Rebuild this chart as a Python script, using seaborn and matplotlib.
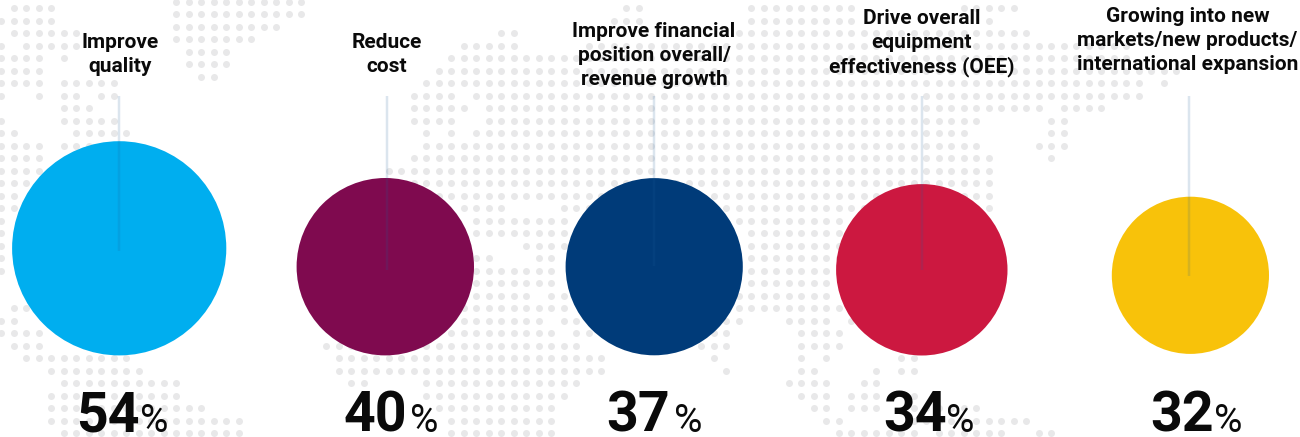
import matplotlib
matplotlib.use("Agg")
import matplotlib.pyplot as plt
import numpy as np
import pandas as pd
import seaborn as sns

# Survey results
categories = [
    "Improve\nquality",
    "Reduce\ncost",
    "Improve financial\nposition overall/\nrevenue growth",
    "Drive overall\nequipment\neffectiveness (OEE)",
    "Growing into new\nmarkets/new products/\ninternational expansion",
]
values = [54, 40, 37, 34, 32]

# Layout in pixels
bubble_x = [119.2, 385.3, 654.2, 921.8, 1190.4]
bubble_y = [248.3, 266.7, 266.7, 269.8, 275.3]
bubble_radius = [107.1, 88.7, 88.6, 85.7, 78.6]
stem_x = [119, 386.7, 654, 921.5, 1189]
stem_end = [251, 269.7, 266, 269.7, 276]
title_x = [120, 387, 654, 921.5, 1187.5]
title_last_baseline = [72, 72, 85, 72, 69.5]
number_right = [139.5, 407.5, 670, 946.5, 1214]
percent_left = [140, 410, 674, 946, 1214]
colors = ["#00AEEF", "#7F0A4F", "#003B79", "#CC1840", "#F8C20A"]

# Dotted world map backdrop: grid row -> spans of grid columns
map_rows = {
    0: [(1, 4), (50, 51), (60, 68), (77, 81)],
    1: [(0, 4), (49, 51), (60, 68), (79, 79)],
    2: [(1, 6), (40, 41), (59, 82)],
    3: [(0, 0), (2, 6), (37, 41), (47, 90)],
    4: [(0, 3), (5, 5), (36, 90)],
    5: [(0, 3), (35, 94)],
    6: [(0, 3), (5, 9), (34, 91), (93, 93)],
    7: [(0, 0), (3, 3), (5, 6), (8, 9), (33, 36), (38, 91)],
    8: [(5, 7), (33, 37), (39, 83), (85, 88)],
    9: [(0, 0), (5, 9), (33, 36), (39, 78), (84, 85)],
    10: [(0, 1), (6, 10), (34, 34), (36, 36), (38, 77), (84, 85)],
    11: [(0, 3), (5, 7), (34, 78), (83, 85)],
    12: [(0, 3), (33, 79), (84, 84)],
    13: [(0, 3), (31, 79)],
    14: [(0, 2), (31, 79)],
    15: [(0, 1), (31, 79)],
    16: [(0, 1), (37, 40), (45, 79)],
    17: [(0, 0), (38, 45), (59, 67)],
    18: [(0, 0), (38, 45), (60, 67)],
    19: [(0, 0), (42, 45), (60, 67)],
    20: [(0, 0), (38, 39), (43, 44), (60, 67)],
    21: [(0, 0), (38, 44), (60, 66)],
    22: [(38, 44), (60, 66)],
    23: [(38, 42), (44, 45), (59, 66)],
    24: [(1, 2), (37, 45), (59, 67)],
    25: [(0, 1), (37, 43), (45, 46), (58, 59), (63, 66), (68, 68)],
    26: [(0, 3), (36, 44), (46, 47), (57, 58), (64, 67)],
    27: [(1, 3), (26, 46), (56, 58), (64, 67)],
    28: [(2, 10), (27, 48), (57, 57), (64, 64), (66, 66), (72, 73)],
    29: [(4, 11), (27, 48), (58, 58), (64, 65), (70, 70), (72, 73)],
    30: [(5, 14), (28, 29), (34, 46), (63, 66), (69, 70)],
    31: [(4, 14), (34, 45), (64, 66), (68, 70), (73, 73)],
    32: [(4, 16), (35, 44), (65, 66), (68, 70), (73, 78)],
    33: [(4, 19), (36, 44), (66, 67), (73, 82)],
    34: [(5, 19), (36, 44), (67, 73), (75, 80), (83, 84)],
}
# Upper block of the map sits half a row off the main grid
map_rows_offset = {
    0: [(14, 24)],
    1: [(14, 24)],
    2: [(14, 22)],
    3: [(14, 20)],
    4: [(15, 18)],
    5: [(15, 18)],
    6: [(16, 17)],
}

sns.set_theme(style="white")
plt.rcParams["font.family"] = ["Roboto", "DejaVu Sans"]

DPI = 100
WIDTH, HEIGHT = 1300, 437
PT = 72 / DPI

fig = plt.figure(figsize=(WIDTH / DPI, HEIGHT / DPI), dpi=DPI)
ax = fig.add_axes([0, 0, 1, 1])


def grid_points(rows, first_y):
    xs, ys = [], []
    for row, spans in rows.items():
        for start, end in spans:
            for col in range(start, end + 1):
                xs.append(1 + 12.5 * col)
                ys.append(first_y + 12.5 * row)
    return xs, ys


mx1, my1 = grid_points(map_rows, 8.3)
mx2, my2 = grid_points(map_rows_offset, 1.7)
sns.scatterplot(
    x=mx1 + mx2, y=my1 + my2, s=(7.0 * PT) ** 2, color="#E8E8E9",
    linewidth=0, ax=ax, zorder=1, legend=False,
)

frame = pd.DataFrame({"value": values, "x": bubble_x, "y": bubble_y})
sns.scatterplot(
    data=frame, x="x", y="y", hue="value", size="value",
    palette=dict(zip(values, colors)),
    sizes={v: (2 * r * PT) ** 2 for v, r in zip(values, bubble_radius)},
    linewidth=0, ax=ax, zorder=2, legend=False,
)

ax.vlines(stem_x, 96, stem_end, color="#1F5F99", alpha=0.16, linewidth=2.5 * PT, zorder=3)

for label, x, base in zip(categories, title_x, title_last_baseline):
    lines = label.split("\n")
    for i, line in enumerate(lines):
        ax.text(x, base - 24 * (len(lines) - 1 - i), line, ha="center", va="baseline",
                fontsize=15, fontweight="bold", color="#0A0A0A", zorder=4)

for v, nx, px in zip(values, number_right, percent_left):
    ax.text(nx, 431.5, str(v), ha="right", va="baseline", fontsize=40,
            fontweight="bold", color="#0A0A0A", zorder=4)
    ax.text(px, 431.5, "%", ha="left", va="baseline", fontsize=28,
            fontweight="normal", color="#0A0A0A", zorder=4)

ax.set_xlim(0, WIDTH)
ax.set_ylim(HEIGHT, 0)
ax.set_xlabel("")
ax.set_ylabel("")
ax.axis("off")

fig.savefig("out.png", dpi=DPI, facecolor="white")
